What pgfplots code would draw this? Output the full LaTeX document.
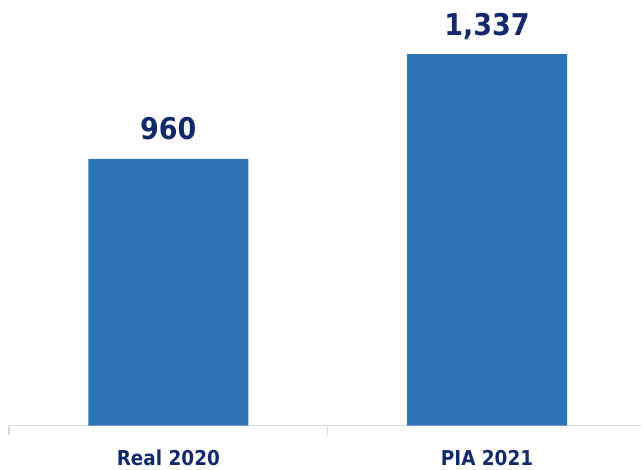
\documentclass[border=0pt]{standalone}
\usepackage{fontspec}
\setmainfont{DejaVu Sans Condensed}[BoldFont={DejaVu Sans Condensed Bold}]
\usepackage{pgfplots}
\pgfplotsset{compat=1.18}
\definecolor{barblue}{HTML}{2E75B6}
\definecolor{navy}{HTML}{13296B}
\definecolor{axisgray}{HTML}{D9D9D9}
\begin{document}
\begin{tikzpicture}
\path (-9pt,-42pt) rectangle (633pt,426pt);
\begin{axis}[
  scale only axis,
  width=633pt, height=426pt,
  xmin=-0.5, xmax=1.484,
  ymin=0, ymax=1532,
  axis x line=bottom,
  axis y line=none,
  x axis line style={-, draw=axisgray, line width=1.3pt},
  xtick={0,1},
  xticklabels={Real 2020, PIA 2021},
  major tick length=0pt,
  minor xtick={-0.5,0.5},
  minor tick length=9pt,
  xtick align=outside,
  minor x tick style={draw=axisgray, line width=1.3pt},
  x tick label style={font=\fontsize{20.5}{22}\selectfont\bfseries, text=navy, anchor=base, yshift=-40pt},
  ybar,
  bar width=160pt,
  clip=false,
  nodes near coords,
  every node near coord/.append style={font=\fontsize{30}{32}\selectfont\bfseries, text=navy, anchor=base, yshift=19pt,
    /pgf/number format/.cd, fixed, precision=0, 1000 sep={,}, assume math mode=true},
]
\addplot[fill=barblue, draw=none] coordinates {(0,960) (1,1337)};
\end{axis}
\end{tikzpicture}
\end{document}
